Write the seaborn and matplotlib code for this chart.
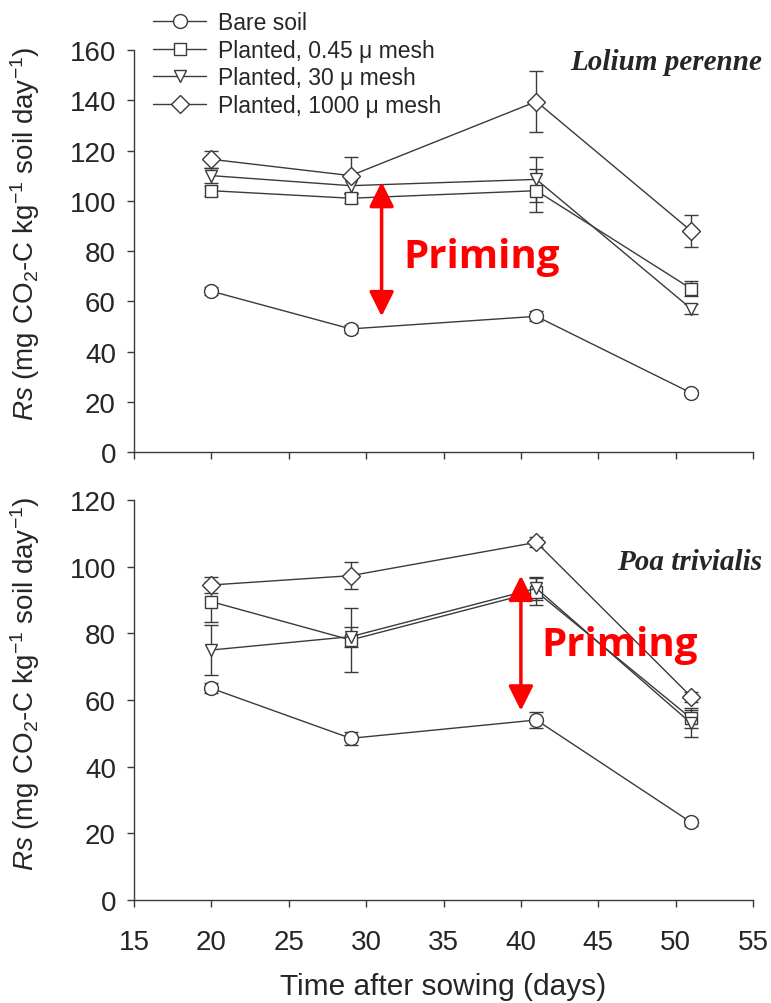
import matplotlib
matplotlib.use("Agg")
import matplotlib.pyplot as plt
import seaborn as sns

# days after sowing
days = [20, 29, 41, 51]
labels = ["Bare soil", "Planted, 0.45 \u03bc mesh", "Planted, 30 \u03bc mesh", "Planted, 1000 \u03bc mesh"]
markers = ["o", "s", "v", "D"]
msizes = [10, 9, 9, 9]

# Lolium perenne (top)
lolium_bare = [64, 49, 54, 23.5]
lolium_045 = [104, 101, 104, 65]
lolium_30 = [110, 106, 108.5, 57]
lolium_1000 = [116.5, 110, 139.5, 88]
lolium_bare_err = [1.5, 1.5, 2, 1]
lolium_045_err = [2, 2, 8.5, 3]
lolium_30_err = [3, 3, 9, 2]
lolium_1000_err = [3.5, 7.5, 12, 6.5]

# Poa trivialis (bottom)
poa_bare = [63.5, 48.5, 54, 23.3]
poa_045 = [89.5, 78, 92.5, 54.5]
poa_30 = [75, 79, 93.5, 53]
poa_1000 = [94.5, 97.3, 107.3, 61]
poa_bare_err = [1.5, 2, 2.5, 1]
poa_045_err = [6, 9.7, 4, 3]
poa_30_err = [7.5, 3, 3.5, 4]
poa_1000_err = [2.5, 4, 1.5, 1.5]

sns.set_style("ticks")
plt.rcParams["font.family"] = ["Liberation Sans", "DejaVu Sans"]
plt.rcParams["mathtext.fontset"] = "custom"
plt.rcParams["mathtext.rm"] = "Liberation Sans"
plt.rcParams["mathtext.it"] = "Liberation Sans:italic"

dark = "#3a3a3a"
fig = plt.figure(figsize=(7.71, 10.04), dpi=100)
ax_top = fig.add_axes([0.1738, 0.5488, 0.8029, 0.4004])
ax_bot = fig.add_axes([0.1738, 0.1026, 0.8029, 0.3984])

panels = [
    (ax_top, [lolium_bare, lolium_045, lolium_30, lolium_1000],
     [lolium_bare_err, lolium_045_err, lolium_30_err, lolium_1000_err]),
    (ax_bot, [poa_bare, poa_045, poa_30, poa_1000],
     [poa_bare_err, poa_045_err, poa_30_err, poa_1000_err]),
]

for ax, vals, errs in panels:
    for name, v, e, m, ms in zip(labels, vals, errs, markers, msizes):
        ax.errorbar(days, v, yerr=e, fmt="none", ecolor=dark, elinewidth=1,
                    capsize=5, capthick=1, zorder=2)
        sns.lineplot(x=days, y=v, ax=ax, color=dark, lw=1, marker=m, ms=ms,
                     mfc="white", mec=dark, mew=1, label=name, zorder=3)
    ax.set_xlim(15, 55)
    ax.set_xticks(range(15, 56, 5))
    ax.tick_params(axis="both", direction="out", length=5, width=1,
                   color=dark, labelsize=20)
    ax.tick_params(axis="y", pad=8)
    ax.tick_params(axis="x", pad=16)
    for s in ["left", "bottom"]:
        ax.spines[s].set_color(dark)
        ax.spines[s].set_linewidth(1)
    sns.despine(ax=ax)
    ax.set_ylabel(r"$\mathit{Rs}$ (mg CO$_2$-C kg$^{-1}$ soil day$^{-1}$)", fontsize=20)
    if ax.get_legend() is not None:
        ax.get_legend().remove()

ax_top.set_ylim(0, 160)
ax_top.set_yticks(range(0, 161, 20))
ax_top.tick_params(axis="x", labelbottom=False)
ax_top.set_xlabel("")
ax_top.yaxis.set_label_coords(-0.149, 0.545)

ax_bot.set_ylim(0, 120)
ax_bot.set_yticks(range(0, 121, 20))
ax_bot.set_xlabel("Time after sowing (days)", fontsize=21.5, labelpad=12)
ax_bot.yaxis.set_label_coords(-0.149, 0.5425)

handles, names = ax_top.get_legend_handles_labels()
fig.legend(handles, names, loc="upper left", bbox_to_anchor=(0.199, 0.988),
           frameon=False, fontsize=16.5, handlelength=2.3, handletextpad=0.5,
           labelspacing=0.2, borderpad=0, borderaxespad=0)

# priming arrows and labels
arrow = dict(arrowstyle="<|-|>,head_length=0.6,head_width=0.3", color="red",
             lw=2.5, mutation_scale=25, shrinkA=0, shrinkB=0)
ax_top.annotate("", xy=(31, 54), xytext=(31, 107.5), arrowprops=arrow)
ax_bot.annotate("", xy=(40, 56.8), xytext=(40, 97.3), arrowprops=arrow)
ax_top.text(32.4, 78, "Priming", color="red", fontsize=29, fontweight="bold",
            family=["Open Sans", "DejaVu Sans"], ha="left", va="center")
ax_bot.text(41.3, 76.5, "Priming", color="red", fontsize=29, fontweight="bold",
            family=["Open Sans", "DejaVu Sans"], ha="left", va="center")

ax_top.text(43.2, 155.6, "Lolium perenne", family=["Liberation Serif"], style="italic",
            weight="bold", fontsize=21, ha="left", va="center", clip_on=False)
ax_bot.text(46.2, 101.4, "Poa trivialis", family=["Liberation Serif"], style="italic",
            weight="bold", fontsize=21, ha="left", va="center", clip_on=False)

fig.savefig("out.png", dpi=100)
